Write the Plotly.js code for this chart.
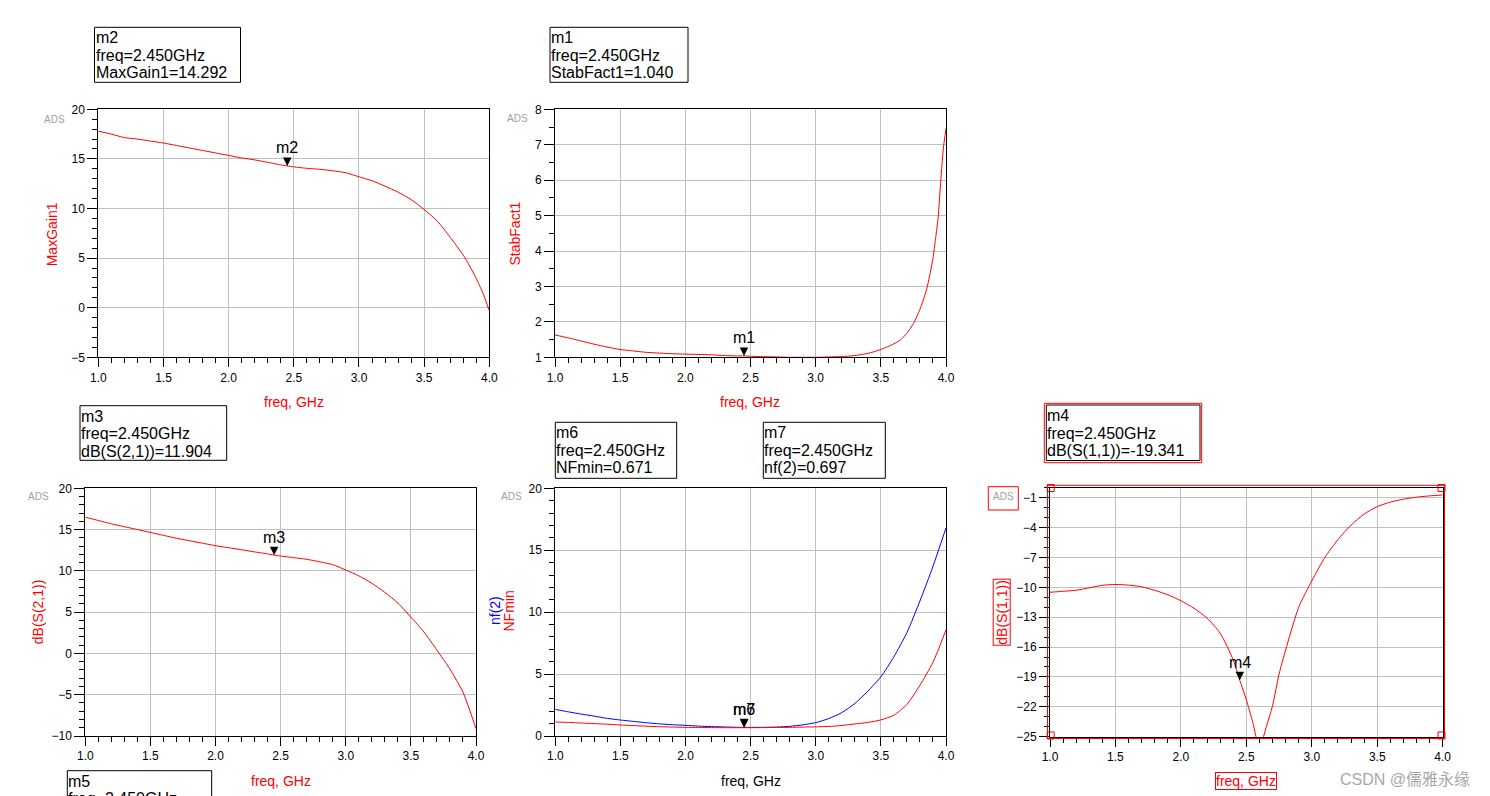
<!DOCTYPE html>
<html lang="en">
<head>
<meta charset="UTF-8">
<title>LNA S-parameter results</title>
<script src="https://cdn.plot.ly/plotly-3.0.1.min.js"></script>
<style>body { margin: 0; background: #fff; }</style>
</head>
<body>
<div id="plot"></div>
<script>
const gainFreq = [1.0, 1.1, 1.2, 1.3, 1.4, 1.5, 1.6, 1.7, 1.8, 1.9, 2.0, 2.1, 2.2, 2.3, 2.4, 2.45, 2.5, 2.6, 2.7, 2.8, 2.9, 3.0, 3.1, 3.2, 3.3, 3.4, 3.5, 3.6, 3.7, 3.8, 3.85, 3.9, 3.95, 4.0];
const gainVals = [17.8, 17.5, 17.15, 17.0, 16.8, 16.6, 16.35, 16.1, 15.85, 15.6, 15.35, 15.1, 14.9, 14.65, 14.4, 14.292, 14.2, 14.05, 13.95, 13.8, 13.6, 13.2, 12.8, 12.25, 11.65, 10.9, 9.9, 8.75, 7.1, 5.3, 4.2, 2.95, 1.5, -0.3];

const stabFreq = [1.0, 1.1, 1.2, 1.3, 1.4, 1.5, 1.6, 1.7, 1.8, 1.9, 2.0, 2.1, 2.2, 2.3, 2.4, 2.45, 2.5, 2.6, 2.7, 2.8, 2.9, 3.0, 3.1, 3.2, 3.3, 3.4, 3.5, 3.6, 3.65, 3.7, 3.75, 3.8, 3.85, 3.88, 3.9, 3.92, 3.94, 3.96, 3.98, 4.0];
const stabVals = [1.63, 1.55, 1.46, 1.37, 1.29, 1.22, 1.18, 1.14, 1.12, 1.10, 1.09, 1.08, 1.07, 1.05, 1.04, 1.040, 1.03, 1.02, 1.01, 1.0, 1.0, 1.0, 1.01, 1.02, 1.05, 1.11, 1.22, 1.38, 1.49, 1.68, 1.95, 2.35, 2.9, 3.4, 3.8, 4.35, 4.95, 6.0, 6.9, 7.46];

const s21Freq = [1.0, 1.1, 1.2, 1.3, 1.4, 1.5, 1.6, 1.7, 1.8, 1.9, 2.0, 2.1, 2.2, 2.3, 2.4, 2.45, 2.5, 2.6, 2.7, 2.8, 2.9, 3.0, 3.1, 3.2, 3.3, 3.4, 3.5, 3.6, 3.7, 3.8, 3.9, 4.0];
const s21Vals = [16.5, 16.1, 15.7, 15.35, 15.0, 14.65, 14.3, 13.95, 13.65, 13.35, 13.05, 12.8, 12.55, 12.3, 12.05, 11.904, 11.8, 11.6, 11.4, 11.1, 10.75, 10.1, 9.4, 8.5, 7.4, 6.1, 4.4, 2.6, 0.4, -1.9, -4.7, -9.1];

const nfFreq = [1.0, 1.1, 1.2, 1.3, 1.4, 1.5, 1.6, 1.7, 1.8, 1.9, 2.0, 2.1, 2.2, 2.3, 2.4, 2.45, 2.5, 2.6, 2.7, 2.8, 2.9, 3.0, 3.1, 3.2, 3.3, 3.4, 3.5, 3.6, 3.7, 3.8, 3.9, 4.0];
const nfVals = [2.15, 1.95, 1.77, 1.6, 1.42, 1.29, 1.18, 1.07, 0.98, 0.91, 0.86, 0.8, 0.76, 0.73, 0.70, 0.697, 0.69, 0.70, 0.72, 0.78, 0.9, 1.08, 1.41, 1.89, 2.62, 3.62, 4.78, 6.4, 8.35, 10.9, 13.7, 16.8];
const nfminVals = [1.13, 1.10, 1.05, 1.0, 0.95, 0.89, 0.84, 0.79, 0.75, 0.72, 0.70, 0.69, 0.68, 0.67, 0.67, 0.671, 0.67, 0.68, 0.69, 0.70, 0.72, 0.74, 0.77, 0.85, 0.97, 1.1, 1.3, 1.68, 2.55, 4.1, 5.95, 8.57];

const s11Freq = [1.0, 1.1, 1.2, 1.3, 1.4, 1.5, 1.6, 1.7, 1.8, 1.9, 2.0, 2.1, 2.2, 2.3, 2.4, 2.45, 2.5, 2.55, 2.6, 2.65, 2.7, 2.75, 2.8, 2.9, 3.0, 3.1, 3.2, 3.3, 3.4, 3.5, 3.6, 3.7, 3.8, 3.9, 4.0];
const s11Vals = [-10.5, -10.4, -10.3, -10.05, -9.8, -9.72, -9.78, -9.95, -10.3, -10.75, -11.35, -12.1, -13.1, -14.6, -17.3, -19.341, -21.3, -23.6, -26.2, -24.1, -21.9, -18.7, -16.3, -12.0, -9.35, -7.0, -5.2, -3.75, -2.65, -1.9, -1.45, -1.15, -0.95, -0.82, -0.73];

// marker readouts (all at the same frequency)
const markerFreq = 2.45;
const m1Stab = 1.040;
const m2Gain = 14.292;
const m3S21 = 11.904;
const m4S11 = -19.341;
const m6NFmin = 0.671;
const m7NF = 0.697;

// ---- layout helpers (pixel positions on the 1490x796 page) ----
const W = 1490, H = 796;
const FONT = 'Arial, "Liberation Sans", sans-serif';
const RED = '#ff0000', BLUE = '#0000ff';
const px = v => v / W;
const py = v => 1 - v / H;

function xAxis(x0, x1, anchor) {
    return {
        domain: [px(x0), px(x1)], anchor: anchor, range: [1, 4],
        tick0: 1, dtick: 0.5, tickformat: '.1f',
        ticks: 'outside', ticklen: 9, tickwidth: 1, tickcolor: '#000',
        minor: { dtick: 0.1, tick0: 1, ticks: 'outside', ticklen: 5, tickcolor: '#000', showgrid: false },
        showgrid: true, gridcolor: '#c0c0c0', gridwidth: 1,
        showline: true, linecolor: '#000', linewidth: 1, mirror: true,
        zeroline: false, fixedrange: true,
        tickfont: { family: FONT, size: 12, color: '#000' }
    };
}

function yAxis(y0, y1, anchor, lo, hi, start, step, minorStep) {
    return {
        domain: [py(y1), py(y0)], anchor: anchor, range: [lo, hi],
        tick0: start, dtick: step,
        ticks: 'outside', ticklen: 10, tickwidth: 1, tickcolor: '#000',
        minor: { dtick: minorStep, tick0: start, ticks: 'outside', ticklen: 5, tickcolor: '#000', showgrid: false },
        showgrid: true, gridcolor: '#c0c0c0', gridwidth: 1,
        showline: true, linecolor: '#000', linewidth: 1, mirror: true,
        zeroline: false, fixedrange: true,
        tickfont: { family: FONT, size: 12, color: '#000' }
    };
}

const shapes = [];
const annotations = [];

function rect(x0, y0, x1, y1, color) {
    shapes.push({
        type: 'rect', xref: 'paper', yref: 'paper',
        x0: px(x0), x1: px(x1), y0: py(y1), y1: py(y0),
        line: { color: color, width: 1 }
    });
}

function label(x, y, text, opt) {
    annotations.push(Object.assign({
        xref: 'paper', yref: 'paper', x: px(x), y: py(y), text: text,
        showarrow: false, xanchor: 'center', yanchor: 'middle',
        font: { family: FONT, size: 14, color: RED }
    }, opt));
}

function readout(x0, y0, x1, y1, lines) {
    rect(x0, y0, x1, y1, '#000');
    lines.forEach((t, i) => label(x0 - 1, y0 + 10.5 + i * 17.5, t, {
        xanchor: 'left', font: { family: FONT, size: 16, color: '#000' }
    }));
}

// ADS marker: name above a filled down-triangle whose tip sits on the trace
function marker(name, xa, ya, y) {
    annotations.push({
        xref: xa, yref: ya, x: markerFreq, y: y, text: name,
        showarrow: true, arrowhead: 2, arrowsize: 1.7, arrowwidth: 1,
        arrowcolor: '#000', ax: 0, ay: -18, standoff: 0,
        font: { family: FONT, size: 16, color: '#000' }
    });
}

function adsTag(x, y) {
    label(x, y, 'ADS', { font: { family: FONT, size: 10, color: '#a0a0a0' } });
}

// ---- marker readout boxes ----
const fq = 'freq=' + markerFreq.toFixed(3) + 'GHz';
readout(94.5, 27.3, 240.5, 82.3, ['m2', fq, 'MaxGain1=' + m2Gain.toFixed(3)]);
readout(550, 27.3, 688, 82.3, ['m1', fq, 'StabFact1=' + m1Stab.toFixed(3)]);
readout(80, 405.7, 226.7, 460.3, ['m3', fq, 'dB(S(2,1))=' + m3S21.toFixed(3)]);
readout(555.3, 422.3, 676.7, 478.3, ['m6', fq, 'NFmin=' + m6NFmin.toFixed(3)]);
readout(763.3, 422.3, 885.3, 478.3, ['m7', fq, 'nf(2)=' + m7NF.toFixed(3)]);
rect(1044.3, 403.3, 1201.7, 462.7, RED);
readout(1046.3, 405, 1200, 460.5, ['m4', fq, 'dB(S(1,1))=' + m4S11.toFixed(3)]);
readout(67.3, 770.7, 211.7, 840, ['m5', fq]);

// ---- axis titles ----
label(52, 234.3, 'MaxGain1', { textangle: -90 });
label(294, 401.7, 'freq, GHz');
label(514.5, 234, 'StabFact1', { textangle: -90 });
label(750, 401.7, 'freq, GHz');
label(37.5, 611.7, 'dB(S(2,1))', { textangle: -90 });
label(281.3, 781, 'freq, GHz');
label(495, 611, 'nf(2)', { textangle: -90, font: { family: FONT, size: 14, color: BLUE } });
label(508.5, 611, 'NFmin', { textangle: -90 });
label(750.5, 780.7, 'freq, GHz', { font: { family: FONT, size: 14, color: '#000' } });
label(1001.7, 612, 'dB(S(1,1))', { textangle: -90, bordercolor: RED, borderwidth: 1, borderpad: 0 });
label(1246.3, 781, 'freq, GHz', { bordercolor: RED, borderwidth: 1, borderpad: 0 });

adsTag(54.3, 119);
adsTag(517.5, 118);
adsTag(38, 496);
adsTag(511, 496);
adsTag(1003, 496);
rect(988.3, 486.7, 1018.3, 510, RED);

// selection frame and handles around the S11 plot
rect(1047.5, 485.3, 1444.5, 738.5, RED);
[[1050.7, 488], [1441.5, 488], [1050.7, 735.5], [1441.5, 735.5]].forEach(c => {
    rect(c[0] - 3.5, c[1] - 3.5, c[0] + 3.5, c[1] + 3.5, RED);
});

// markers on the traces
marker('m2', 'x', 'y', m2Gain);
marker('m1', 'x2', 'y2', m1Stab);
marker('m3', 'x3', 'y3', m3S21);
marker('m6', 'x4', 'y4', m6NFmin);
marker('m7', 'x4', 'y4', m7NF);
marker('m4', 'x5', 'y5', m4S11);

label(1405, 779, 'CSDN @儒雅永缘', { font: { family: 'Arial, "Noto Sans CJK SC", sans-serif', size: 16, color: '#a8a8a8' } });

// ---- traces ----
const line = c => ({ color: c, width: 1, shape: 'spline', smoothing: 0.6 });
const traces = [
    { x: gainFreq, y: gainVals, xaxis: 'x', yaxis: 'y', mode: 'lines', line: line(RED), name: 'MaxGain1' },
    { x: stabFreq, y: stabVals, xaxis: 'x2', yaxis: 'y2', mode: 'lines', line: line(RED), name: 'StabFact1' },
    { x: s21Freq, y: s21Vals, xaxis: 'x3', yaxis: 'y3', mode: 'lines', line: line(RED), name: 'dB(S(2,1))' },
    { x: nfFreq, y: nfVals, xaxis: 'x4', yaxis: 'y4', mode: 'lines', line: line(BLUE), name: 'nf(2)' },
    { x: nfFreq, y: nfminVals, xaxis: 'x4', yaxis: 'y4', mode: 'lines', line: line(RED), name: 'NFmin' },
    { x: s11Freq, y: s11Vals, xaxis: 'x5', yaxis: 'y5', mode: 'lines', line: line(RED), name: 'dB(S(1,1))' }
];

const layout = {
    width: W, height: H,
    margin: { l: 0, r: 0, t: 0, b: 0 },
    paper_bgcolor: '#fff', plot_bgcolor: '#fff',
    showlegend: false,
    font: { family: FONT },
    xaxis: xAxis(98.3, 489.3, 'y'),
    yaxis: yAxis(109.3, 357.3, 'x', -5, 20, 0, 5, 1),
    xaxis2: xAxis(555, 946, 'y2'),
    yaxis2: yAxis(109.3, 357.3, 'x2', 1, 8, 1, 1, 0.5),
    xaxis3: xAxis(85.3, 476, 'y3'),
    yaxis3: yAxis(488.3, 736, 'x3', -10, 20, 0, 5, 1),
    xaxis4: xAxis(555.3, 946, 'y4'),
    yaxis4: yAxis(488.3, 736, 'x4', 0, 20, 0, 5, 1),
    xaxis5: xAxis(1050, 1442.7, 'y5'),
    yaxis5: yAxis(487.7, 736.7, 'x5', -25, 0, -1, 3, 1),
    shapes: shapes,
    annotations: annotations
};

Plotly.newPlot('plot', traces, layout, { displayModeBar: false, staticPlot: true });
</script>
</body>
</html>
